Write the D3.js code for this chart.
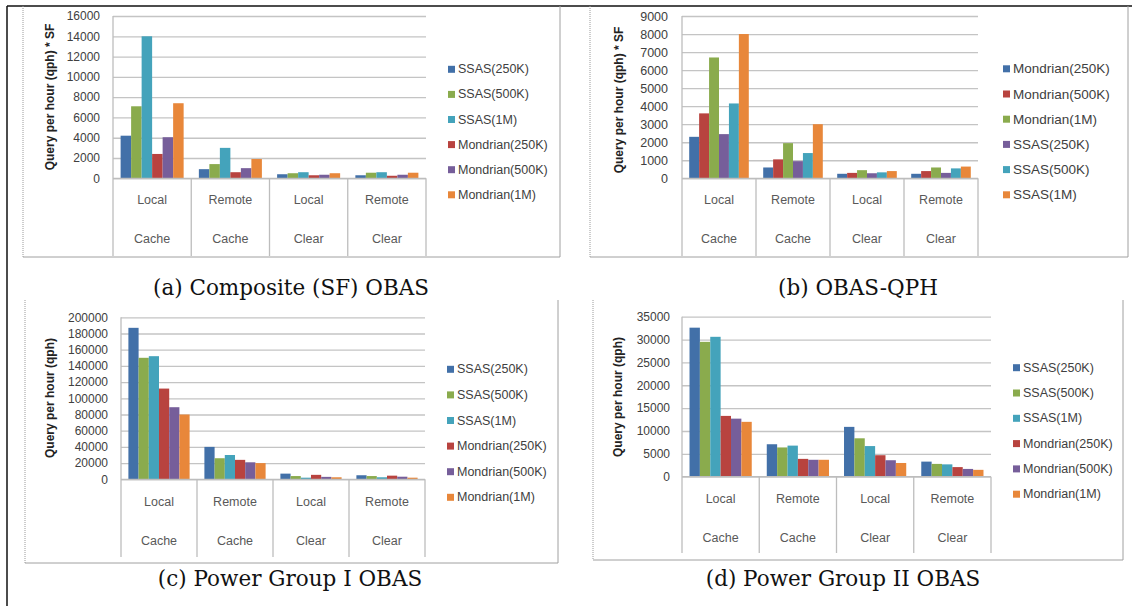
<!DOCTYPE html>
<html>
<head>
<meta charset="utf-8">
<script src="https://cdn.jsdelivr.net/npm/d3@7"></script>
<style>
  html, body { margin: 0; padding: 0; background: #ffffff; }
  svg { display: block; }
</style>
</head>
<body>
<svg id="fig" width="1134" height="606"></svg>
<script>
// ---- shared category labels (two-level x axis) ----
const groupTop = ["Local", "Remote", "Local", "Remote"];
const groupBottom = ["Cache", "Cache", "Clear", "Clear"];

// ---- (a) Composite (SF) OBAS ----
const compositeSeries = ["SSAS(250K)", "SSAS(500K)", "SSAS(1M)", "Mondrian(250K)", "Mondrian(500K)", "Mondrian(1M)"];
const compositeValues = [
  [4200, 900, 400, 300],
  [7100, 1400, 500, 550],
  [14000, 3000, 600, 600],
  [2400, 600, 300, 250],
  [4050, 1000, 350, 350],
  [7400, 1900, 500, 550]
];
const compositeTicks = [0, 2000, 4000, 6000, 8000, 10000, 12000, 14000, 16000];

// ---- (b) OBAS-QPH ----
const qphSeries = ["Mondrian(250K)", "Mondrian(500K)", "Mondrian(1M)", "SSAS(250K)", "SSAS(500K)", "SSAS(1M)"];
const qphValues = [
  [2300, 600, 250, 250],
  [3600, 1050, 300, 400],
  [6700, 1950, 450, 600],
  [2450, 950, 280, 300],
  [4150, 1400, 330, 550],
  [8000, 3000, 400, 650]
];
const qphTicks = [0, 1000, 2000, 3000, 4000, 5000, 6000, 7000, 8000, 9000];

// ---- (c) Power Group I OBAS ----
const powerOneSeries = ["SSAS(250K)", "SSAS(500K)", "SSAS(1M)", "Mondrian(250K)", "Mondrian(500K)", "Mondrian(1M)"];
const powerOneValues = [
  [187000, 40000, 7000, 5000],
  [150000, 26000, 4000, 4000],
  [152000, 30000, 2000, 2500],
  [112000, 24000, 5500, 4500],
  [89000, 21000, 3000, 3200],
  [80000, 20000, 2500, 2000]
];
const powerOneTicks = [0, 20000, 40000, 60000, 80000, 100000, 120000, 140000, 160000, 180000, 200000];

// ---- (d) Power Group II OBAS ----
const powerTwoSeries = ["SSAS(250K)", "SSAS(500K)", "SSAS(1M)", "Mondrian(250K)", "Mondrian(500K)", "Mondrian(1M)"];
const powerTwoValues = [
  [32600, 7100, 10900, 3300],
  [29500, 6400, 8400, 2800],
  [30600, 6800, 6700, 2700],
  [13300, 3900, 4700, 2100],
  [12700, 3700, 3600, 1700],
  [12000, 3700, 3000, 1500]
];
const powerTwoTicks = [0, 5000, 10000, 15000, 20000, 25000, 30000, 35000];

// Office-style series colours
const C = {
  blue: "#4270a8", red: "#b8433f", green: "#8aab4d",
  purple: "#765e9a", teal: "#44a3bb", orange: "#e8873a"
};
const paletteStd = [C.blue, C.green, C.teal, C.red, C.purple, C.orange];
const paletteQph = [C.blue, C.red, C.green, C.purple, C.teal, C.orange];

const svg = d3.select("#fig");
const sans = "'Liberation Sans', Arial, sans-serif";
const serif = "'DejaVu Serif', 'Liberation Serif', serif";

// page frame
svg.append("line").attr("x1", 7).attr("x2", 1132).attr("y1", 6).attr("y2", 6)
  .attr("stroke", "#111").attr("stroke-width", 1.5);
svg.append("line").attr("x1", 7).attr("x2", 7).attr("y1", 6).attr("y2", 606)
  .attr("stroke", "#111").attr("stroke-width", 1.5);

function drawPanel(p) {
  const g = svg.append("g");

  // chart box: dotted left edge, solid right and bottom edges
  g.append("line").attr("x1", p.box.l).attr("x2", p.box.l).attr("y1", p.box.t).attr("y2", p.box.b)
    .attr("stroke", "#9a9a9a").attr("stroke-dasharray", "1,1");
  g.append("line").attr("x1", p.box.r).attr("x2", p.box.r).attr("y1", p.box.t).attr("y2", p.box.b)
    .attr("stroke", "#a0a0a0");
  g.append("line").attr("x1", p.box.l).attr("x2", p.box.r).attr("y1", p.box.b).attr("y2", p.box.b)
    .attr("stroke", "#a0a0a0");

  const y = d3.scaleLinear().domain([0, p.ticks[p.ticks.length - 1]]).range([p.y0, p.y1]);
  const x0 = d3.scaleBand().domain(d3.range(groupTop.length)).range([p.x0, p.x1]);
  const bw = x0.bandwidth();
  const barW = bw / (p.series.length + 1.45);
  const x1 = d3.scaleBand().domain(p.series)
    .range([(bw - barW * p.series.length) / 2, (bw + barW * p.series.length) / 2]);

  // horizontal gridlines
  g.append("g").attr("transform", `translate(${p.x0},0)`)
    .call(d3.axisLeft(y).tickValues(p.ticks).tickSize(-(p.x1 - p.x0)).tickFormat(""))
    .call(s => s.select(".domain").remove())
    .call(s => s.selectAll("line").attr("stroke", "#c4c4c4").attr("stroke-width", 1.3));

  // y tick labels
  g.append("g").attr("transform", `translate(${p.tickX},0)`)
    .call(d3.axisLeft(y).tickValues(p.ticks).tickSize(0).tickPadding(0).tickFormat(d3.format("d")))
    .call(s => s.select(".domain").remove())
    .call(s => s.selectAll("text").attr("font-family", sans).attr("font-size", p.tickSize)
      .attr("fill", "#404040"));

  // bars
  p.series.forEach((name, si) => {
    g.append("g").selectAll("rect")
      .data(p.values[si])
      .join("rect")
      .attr("x", (d, i) => x0(i) + x1(name))
      .attr("width", x1.bandwidth())
      .attr("y", d => y(d))
      .attr("height", d => y(0) - y(d))
      .attr("fill", p.colors[si]);
  });

  // category axis: baseline, separators and two label rows
  g.append("line").attr("x1", p.x0).attr("x2", p.x1).attr("y1", y(0)).attr("y2", y(0))
    .attr("stroke", "#bdbdbd").attr("stroke-width", 1.3);
  g.append("line").attr("x1", p.x0).attr("x2", p.x0).attr("y1", p.y1).attr("y2", p.catBottom)
    .attr("stroke", "#bdbdbd").attr("stroke-width", 1.3);
  g.selectAll(".sep").data(d3.range(1, groupTop.length + 1)).join("line")
    .attr("x1", i => x0(i - 1) + bw).attr("x2", i => x0(i - 1) + bw)
    .attr("y1", y(0)).attr("y2", p.catBottom)
    .attr("stroke", "#bdbdbd").attr("stroke-width", 1.3);
  g.selectAll(".catTop").data(groupTop).join("text")
    .attr("x", (d, i) => x0(i) + bw / 2).attr("y", p.catY1)
    .attr("text-anchor", "middle").attr("dominant-baseline", "central")
    .attr("font-family", sans).attr("font-size", p.catSize).attr("fill", "#595959")
    .text(d => d);
  g.selectAll(".catBot").data(groupBottom).join("text")
    .attr("x", (d, i) => x0(i) + bw / 2).attr("y", p.catY2)
    .attr("text-anchor", "middle").attr("dominant-baseline", "central")
    .attr("font-family", sans).attr("font-size", p.catSize).attr("fill", "#595959")
    .text(d => d);

  // y axis title
  g.append("text")
    .attr("transform", `translate(${p.titleX},${p.titleY}) rotate(-90)`)
    .attr("text-anchor", "middle").attr("dominant-baseline", "central")
    .attr("font-family", sans).attr("font-size", 12).attr("font-weight", "bold").attr("fill", "#222")
    .text(p.yTitle);

  // legend
  const lg = g.append("g");
  p.series.forEach((name, si) => {
    const cy = p.legY + si * p.legStep;
    lg.append("rect").attr("x", p.legX).attr("y", cy - 3.5).attr("width", 7).attr("height", 7)
      .attr("fill", p.colors[si]);
    lg.append("text").attr("x", p.legX + 10).attr("y", cy)
      .attr("dominant-baseline", "central")
      .attr("font-family", sans).attr("font-size", p.legSize).attr("fill", "#404040")
      .text(name);
  });

  // caption
  svg.append("text").attr("x", p.capX).attr("y", p.capY)
    .attr("text-anchor", "middle")
    .attr("font-family", serif).attr("font-size", 21.5).attr("fill", "#111")
    .text(p.caption);
}

drawPanel({
  series: compositeSeries, values: compositeValues, ticks: compositeTicks, colors: paletteStd,
  x0: 113, x1: 426, y0: 178.3, y1: 16, tickX: 100, tickSize: 12,
  catY1: 200, catY2: 239, catBottom: 256, catSize: 12.5,
  titleX: 50, titleY: 97, yTitle: "Query per hour (qph) * SF",
  legX: 448, legY: 69.3, legStep: 25.1, legSize: 12.5,
  box: { l: 23, r: 560, t: 6, b: 257 },
  capX: 291, capY: 295, caption: "(a) Composite (SF) OBAS"
});

drawPanel({
  series: qphSeries, values: qphValues, ticks: qphTicks, colors: paletteQph,
  x0: 682, x1: 978, y0: 178.3, y1: 16, tickX: 668, tickSize: 12.5,
  catY1: 200, catY2: 239, catBottom: 256, catSize: 12.5,
  titleX: 619, titleY: 100, yTitle: "Query per hour (qph) * SF",
  legX: 1003, legY: 68.8, legStep: 25.2, legSize: 13.5,
  box: { l: 590, r: 1128, t: 6, b: 257 },
  capX: 858, capY: 295, caption: "(b) OBAS-QPH"
});

drawPanel({
  series: powerOneSeries, values: powerOneValues, ticks: powerOneTicks, colors: paletteStd,
  x0: 121, x1: 425, y0: 479.3, y1: 317.3, tickX: 108, tickSize: 12,
  catY1: 501.7, catY2: 540.7, catBottom: 557, catSize: 12.5,
  titleX: 50, titleY: 398, yTitle: "Query per hour (qph)",
  legX: 447, legY: 369.3, legStep: 25.6, legSize: 12.5,
  box: { l: 25, r: 558, t: 300, b: 563 },
  capX: 290, capY: 586, caption: "(c) Power Group I OBAS"
});

drawPanel({
  series: powerTwoSeries, values: powerTwoValues, ticks: powerTwoTicks, colors: paletteStd,
  x0: 682, x1: 991, y0: 476.7, y1: 316.7, tickX: 670, tickSize: 12,
  catY1: 499, catY2: 537.7, catBottom: 553, catSize: 12.5,
  titleX: 618, titleY: 397, yTitle: "Query per hour (qph)",
  legX: 1013, legY: 367.7, legStep: 25.3, legSize: 12.5,
  box: { l: 593, r: 1123, t: 300, b: 560 },
  capX: 843, capY: 586, caption: "(d) Power Group II OBAS"
});
</script>
</body>
</html>
